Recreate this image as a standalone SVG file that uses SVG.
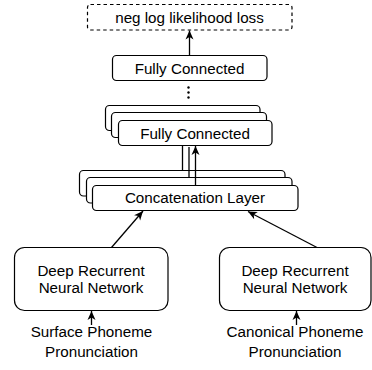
<svg xmlns="http://www.w3.org/2000/svg" width="372" height="370" viewBox="0 0 372 370">
<style>
.box{fill:#fff;stroke:#000;stroke-width:1.2}
.dash{fill:#fff;stroke:#000;stroke-width:1.2;stroke-dasharray:3.5,3}
.t{font-family:"Liberation Sans",Arial,sans-serif;font-size:15.2px;fill:#000;text-anchor:middle}
.c{fill:none;stroke:#000;stroke-width:1.3}
</style>
<defs>
<marker id="ah" viewBox="0 0 10 10" refX="9.5" refY="5" markerWidth="10" markerHeight="10" markerUnits="userSpaceOnUse" orient="auto">
<path d="M0.5,1 L9.5,5 L0.5,9 L3,5 z" fill="#000"/>
</marker>
</defs>
<rect width="372" height="370" fill="#fff"/>
<g id="loss">
<rect class="dash" x="87.5" y="4.5" width="204.5" height="25.5" rx="3"/>
<text class="t" x="189.5" y="22.5">neg log likelihood loss</text>
</g>
<g id="fc-top">
<rect class="box" x="112.5" y="55.5" width="154.5" height="25" rx="4"/>
<text class="t" x="189.5" y="73.5">Fully Connected</text>
</g>
<g id="ellipsis">
<circle cx="188.5" cy="87.5" r="1.2" fill="#000"/>
<circle cx="188.5" cy="92.5" r="1.2" fill="#000"/>
<circle cx="188.5" cy="97.5" r="1.2" fill="#000"/>
</g>
<g id="fc-stack">
<rect class="box" x="105.5" y="105.5" width="154.5" height="25" rx="4"/>
<rect class="box" x="111.5" y="112.5" width="155" height="25" rx="4"/>
<rect class="box" x="118.5" y="120.5" width="153.5" height="25" rx="4"/>
<text class="t" x="195" y="138.5">Fully Connected</text>
</g>
<g id="concat-stack">
<rect class="box" x="79.5" y="170.5" width="205.5" height="25.5" rx="4"/>
<rect class="box" x="86.5" y="177.5" width="205.5" height="25.5" rx="4"/>
<rect class="box" x="92.5" y="185.5" width="205.5" height="25" rx="4"/>
<text class="t" x="195" y="203">Concatenation Layer</text>
</g>
<g id="drnn-left">
<rect class="box" x="14.5" y="247.5" width="153.5" height="63" rx="10"/>
<text class="t" x="91" y="276">Deep Recurrent</text>
<text class="t" x="91" y="292.5">Neural Network</text>
</g>
<g id="drnn-right">
<rect class="box" x="219.5" y="247.5" width="151.5" height="63" rx="10"/>
<text class="t" x="295" y="276">Deep Recurrent</text>
<text class="t" x="295" y="292.5">Neural Network</text>
</g>
<g id="input-left">
<text class="t" x="91.5" y="337">Surface Phoneme</text>
<text class="t" x="91.5" y="357">Pronunciation</text>
</g>
<g id="input-right">
<text class="t" x="295" y="337">Canonical Phoneme</text>
<text class="t" x="295" y="357">Pronunciation</text>
</g>
<g id="connectors">
<line class="c" x1="189.5" y1="55.5" x2="189.5" y2="30.5" marker-end="url(#ah)"/>
<line class="c" x1="182.5" y1="170.5" x2="182.5" y2="145.5"/>
<line class="c" x1="189" y1="177.5" x2="189" y2="147"/>
<line class="c" x1="195.5" y1="185.5" x2="195.5" y2="146" marker-end="url(#ah)"/>
<line class="c" x1="111.5" y1="247.5" x2="143" y2="211" marker-end="url(#ah)"/>
<line class="c" x1="317" y1="247.5" x2="248" y2="211.5" marker-end="url(#ah)"/>
<line class="c" x1="91.5" y1="325" x2="91.5" y2="311" marker-end="url(#ah)"/>
<line class="c" x1="296.5" y1="325" x2="296.5" y2="311" marker-end="url(#ah)"/>
</g>
</svg>
